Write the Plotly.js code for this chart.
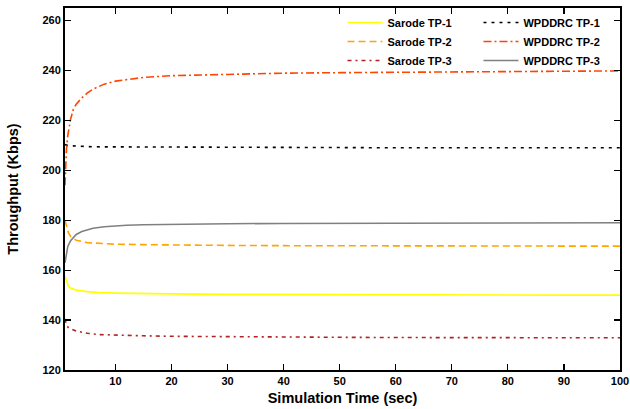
<!DOCTYPE html>
<html>
<head>
<meta charset="utf-8">
<script src="https://cdn.plot.ly/plotly-3.0.1.min.js"></script>
<style>html,body{margin:0;padding:0;background:#fff;}#chart{width:630px;height:409px;}</style>
</head>
<body>
<div id="chart"></div>
<script>
// Simulation time (sec) sample points
const timeS1 = [1, 1.3, 1.6, 2, 3, 5, 7, 10, 15, 20, 30, 40, 50, 60, 70, 80, 90, 100];
const sarodeTP1 = [157.5, 155.5, 153.6, 152.8, 152.0, 151.4, 151.0, 150.8, 150.6, 150.5, 150.3, 150.2, 150.2, 150.1, 150.1, 150.1, 150.0, 150.0];
const sarodeTP2 = [180.0, 177.0, 175.0, 173.5, 172.0, 171.0, 170.7, 170.4, 170.2, 170.0, 169.9, 169.8, 169.8, 169.7, 169.7, 169.6, 169.6, 169.6];
const sarodeTP3 = [140.5, 137.8, 137.0, 136.5, 135.6, 134.7, 134.2, 133.9, 133.7, 133.5, 133.3, 133.2, 133.1, 133.0, 133.0, 132.9, 132.9, 132.9];
const timeW = [1, 1.25, 1.5, 2, 2.5, 3, 4, 5, 6, 8, 10, 12, 15, 20, 30, 40, 50, 60, 70, 80, 90, 100];
const wpddrcTP1 = [210.3, 210.0, 209.9, 209.8, 209.7, 209.6, 209.5, 209.5, 209.4, 209.4, 209.3, 209.3, 209.2, 209.2, 209.1, 209.1, 209.1, 209.0, 209.0, 209.0, 209.0, 209.0];
const wpddrcTP2 = [194.0, 208.0, 214.0, 220.5, 224.5, 226.5, 229.0, 231.0, 232.5, 234.5, 235.7, 236.4, 237.2, 237.9, 238.5, 238.9, 239.1, 239.3, 239.4, 239.5, 239.6, 239.8];
const wpddrcTP3 = [163.0, 166.0, 169.5, 171.8, 173.2, 174.3, 175.5, 176.3, 176.8, 177.4, 177.8, 178.0, 178.2, 178.4, 178.6, 178.7, 178.8, 178.8, 178.9, 178.9, 179.0, 179.0];
const xTicks = [10, 20, 30, 40, 50, 60, 70, 80, 90, 100];
const yTicks = [120, 140, 160, 180, 200, 220, 240, 260];

const lw = 1.6;
const traces = [
  {x: timeS1, y: sarodeTP1, name: 'Sarode TP-1', mode: 'lines', line: {color: '#FFFF00', width: lw}, legend: 'legend'},
  {x: timeS1, y: sarodeTP2, name: 'Sarode TP-2', mode: 'lines', line: {color: '#FFA500', width: lw, dash: '7px,4px'}, legend: 'legend'},
  {x: timeS1, y: sarodeTP3, name: 'Sarode TP-3', mode: 'lines', line: {color: '#B22222', width: lw, dash: '4px,4px,2px,4px'}, legend: 'legend'},
  {x: timeW, y: wpddrcTP1, name: 'WPDDRC TP-1', mode: 'lines', line: {color: '#000000', width: lw, dash: '3px,5px'}, legend: 'legend2'},
  {x: timeW, y: wpddrcTP2, name: 'WPDDRC TP-2', mode: 'lines', line: {color: '#FF4500', width: lw, dash: '8px,3px,2px,3px'}, legend: 'legend2'},
  {x: timeW, y: wpddrcTP3, name: 'WPDDRC TP-3', mode: 'lines', line: {color: '#808080', width: lw}, legend: 'legend2'}
];

const legFont = {family: 'Liberation Sans, Arial, sans-serif', size: 11, color: '#000', weight: 'bold'};
const layout = {
  width: 630, height: 409,
  margin: {l: 65, r: 10, t: 8, b: 39},
  paper_bgcolor: '#fff', plot_bgcolor: '#fff',
  font: {family: 'Liberation Sans, Arial, sans-serif', size: 11, color: '#000', weight: 'bold'},
  xaxis: {
    range: [1, 100], tickvals: xTicks, ticks: 'inside', ticklen: 6, tickwidth: 1.2, tickcolor: '#000',
    showline: true, linewidth: 2, linecolor: '#000', mirror: 'ticks', showgrid: false, zeroline: false,
    tickfont: {size: 11, weight: 'bold'},
    title: {text: 'Simulation Time (sec)', font: {size: 14.5, weight: 'bold'}, standoff: 7}
  },
  yaxis: {
    range: [120, 265], tickvals: yTicks, ticks: 'inside', ticklen: 6, tickwidth: 1.2, tickcolor: '#000',
    showline: true, linewidth: 2, linecolor: '#000', mirror: 'ticks', showgrid: false, zeroline: false,
    tickfont: {size: 11, weight: 'bold'},
    title: {text: 'Throughput (Kbps)', font: {size: 14.5, weight: 'bold'}, standoff: 20}
  },
  legend: {x: 0.5, y: 1, xanchor: 'left', yanchor: 'top', bgcolor: 'rgba(0,0,0,0)', font: legFont, itemwidth: 35, tracegroupgap: 0},
  legend2: {x: 0.745, y: 1, xanchor: 'left', yanchor: 'top', bgcolor: 'rgba(0,0,0,0)', font: legFont, itemwidth: 35, tracegroupgap: 0},
  showlegend: true
};

Plotly.newPlot('chart', traces, layout, {displayModeBar: false, staticPlot: true});
</script>
</body>
</html>
